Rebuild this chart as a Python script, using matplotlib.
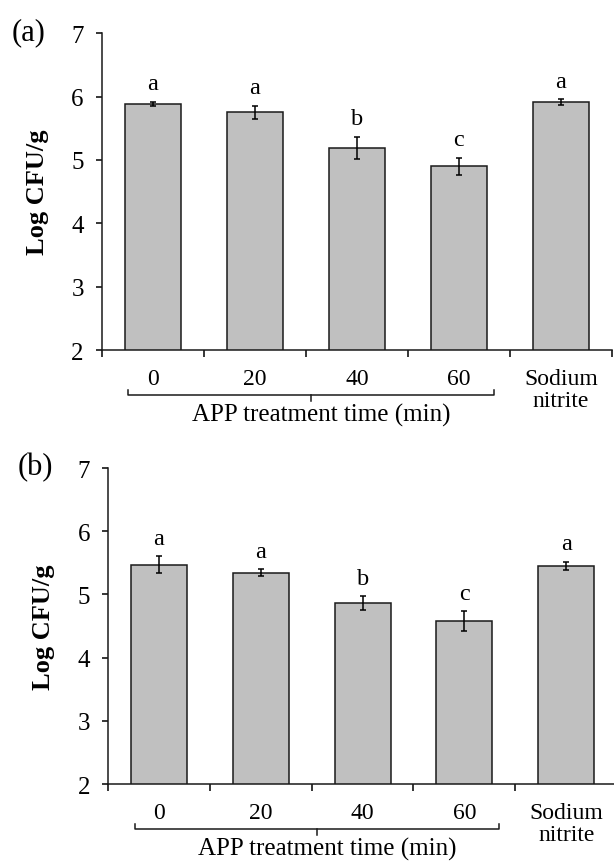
import matplotlib
matplotlib.use("Agg")
import matplotlib.pyplot as plt

plt.rcParams['font.family'] = ['Liberation Serif', 'DejaVu Serif']

categories = ["0", "20", "40", "60", "Sodium\nnitrite"]

# panel (a)
means_a = [5.89, 5.75, 5.19, 4.90, 5.91]
errs_a = [0.03, 0.11, 0.18, 0.13, 0.045]
letters_a = ["a", "a", "b", "c", "a"]

# panel (b)
means_b = [5.47, 5.34, 4.86, 4.58, 5.45]
errs_b = [0.13, 0.055, 0.11, 0.155, 0.07]
letters_b = ["a", "a", "b", "c", "a"]

BAR_COLOR = "#c0c0c0"
EDGE_COLOR = "#1a1a1a"


def draw_panel(ax, means, errs, letters, tag):
    x = list(range(len(categories)))
    ax.bar(x, means, width=0.55, bottom=0, color=BAR_COLOR,
           edgecolor=EDGE_COLOR, linewidth=1.1, zorder=2)
    ax.errorbar(x, means, yerr=errs, fmt='none', ecolor='black',
                elinewidth=1.1, capsize=2.2, capthick=1.1, zorder=3)
    for xi, m, e, lab in zip(x, means, errs, letters):
        ax.text(xi, m + e + 0.2, lab, ha='center', va='baseline', fontsize=17.5)

    ax.set_ylim(2, 7)
    ax.set_xlim(-0.5, 4.5)
    ax.set_yticks([2, 3, 4, 5, 6, 7])
    ax.tick_params(axis='y', direction='out', length=4, width=1.1,
                   labelsize=18, pad=9)
    ax.set_xticks(x)
    ax.set_xticklabels(categories, fontsize=17, linespacing=1.05)
    ax.tick_params(axis='x', which='major', length=0, pad=13)
    ax.set_xticks([i - 0.5 for i in range(len(categories) + 1)], minor=True)
    ax.tick_params(axis='x', which='minor', direction='out', length=5,
                   width=1.1)

    for side in ['top', 'right']:
        ax.spines[side].set_visible(False)
    for side in ['left', 'bottom']:
        ax.spines[side].set_linewidth(1.1)
        ax.spines[side].set_color(EDGE_COLOR)

    ax.set_ylabel("Log CFU/g", fontsize=19, fontweight='bold')
    ax.yaxis.set_label_coords(-0.104, 0.5)

    # bracket under the APP treatment groups
    tr = ax.get_xaxis_transform()
    x0, x1 = -0.24, 3.34
    xm = (x0 + x1) / 2
    yb = -0.142
    ax.plot([x0, x0, x1, x1], [yb + 0.016, yb, yb, yb + 0.016],
            color=EDGE_COLOR, lw=1.1, transform=tr, clip_on=False)
    ax.plot([xm, xm], [yb, yb - 0.018], color=EDGE_COLOR, lw=1.1,
            transform=tr, clip_on=False)
    ax.text(xm + 0.1, -0.205, "APP treatment time (min)", ha='center',
            va='center', fontsize=18, transform=tr)

    ax.text(-0.178, 1.004, tag, ha='left', va='center', fontsize=22,
            transform=ax.transAxes)


fig = plt.figure(figsize=(6.14, 8.62), dpi=100)

ax_a = fig.add_axes([0.166, 0.5928, 0.8306, 0.3674])
draw_panel(ax_a, means_a, errs_a, letters_a, "(a)")

ax_b = fig.add_axes([0.176, 0.0893, 0.829, 0.3666])
draw_panel(ax_b, means_b, errs_b, letters_b, "(b)")

fig.savefig("out.png", dpi=100)
